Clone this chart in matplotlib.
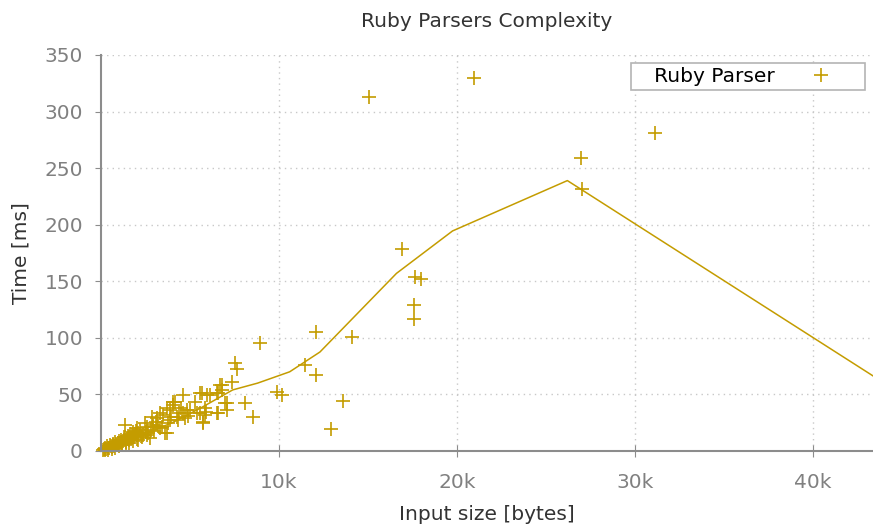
import matplotlib
matplotlib.use('Agg')
import matplotlib.pyplot as plt
from matplotlib.ticker import FuncFormatter

# measured parse times (input bytes, ms)
size_bytes = [100, 150, 200, 250, 300, 350, 400, 450, 500, 550, 600, 650, 700, 750, 800,
              850, 900, 950, 1000, 1050, 1100, 1150, 1200, 1250, 1300, 1350, 1350, 1400,
              1450, 1500, 1550, 1600, 1650, 1700, 1750, 1800, 1850, 1900, 1950, 2000, 2000,
              2050, 2100, 2200, 2250, 2370, 2470, 2500, 2600, 2650, 2750, 2800, 2840, 2900,
              2940, 3000, 3100, 3130, 3200, 3310, 3400, 3500, 3600, 3690, 3690, 3750, 3880,
              3880, 3950, 4060, 4060, 4160, 4250, 4400, 4500, 4620, 4620, 4720, 4850, 5000,
              5280, 5370, 5560, 5560, 5650, 5750, 5750, 5840, 5840, 5900, 5930, 6100, 6500,
              6500, 6600, 6600, 6680, 6780, 6780, 6960, 7060, 7060, 7340, 7530, 7620, 8100,
              8560, 8930, 9870, 10150, 11460, 12080, 12100, 12900, 13600, 14100, 15060,
              16900, 17600, 17600, 17640, 17960, 20950, 26970, 27000, 31100,
              250, 400, 600, 800, 1000, 1200, 1400, 1600, 1800, 2100, 2300, 2600, 3300,
              4300, 4900]
time_ms = [1, 2, 1.5, 3, 2, 4, 3, 2.5, 5, 4, 3.5, 6, 5, 4, 8,
           6, 5, 7, 9, 6, 8, 10, 7, 9, 12, 23, 12.6, 8,
           11, 13, 10, 12, 15, 11, 14, 17, 12, 15, 18, 20, 14,
           11, 16, 19, 13, 14, 24.5, 17, 21, 16, 11.2, 19, 30.4, 23,
           21.5, 18, 26, 28.8, 22, 33.3, 21.5, 31.8, 15.6, 37.8, 15.6, 25, 36.2,
           27.4, 30, 40.7, 43.6, 43.6, 30.4, 34, 38, 49.5, 33.3, 28.8, 36, 36.2,
           43.6, 33.3, 51, 33.3, 51, 24.4, 26, 37.8, 31.8, 34.8, 49.5, 49.5, 33.3,
           51, 51, 33.3, 58.4, 58.4, 54, 42, 42, 36.2, 61.3, 77.5, 72.2, 42,
           29.7, 95.8, 52.4, 49.5, 76, 67.2, 105.5, 19.2, 44.2, 101, 313,
           178.3, 117, 129, 153.6, 152, 329.5, 259.3, 231.4, 281.5,
           0.5, 1, 2, 3, 4, 5, 6, 7, 9, 10, 12, 14, 20,
           27, 31]

# fitted trend
trend_x = [0, 2000, 4000, 5600, 7400, 8800, 10600, 12300, 16600, 19750, 26200, 45000]
trend_y = [0, 12, 25, 38, 54, 60, 70, 87.5, 157, 194.5, 239, 50]

color = '#c49c00'

fig = plt.figure(figsize=(8.73, 5.31), dpi=100)
ax = fig.add_axes([101 / 873, 80 / 531, 772 / 873, 396 / 531])

ax.plot(trend_x, trend_y, color=color, linewidth=1.1)
ax.plot(size_bytes, time_ms, linestyle='none', marker='+', markersize=10,
        markeredgewidth=1.2, color=color, label='   Ruby Parser', clip_on=False)

ax.set_xlim(0, 43370)
ax.set_ylim(0, 350)
ax.set_xticks([10000, 20000, 30000, 40000])
ax.set_yticks(range(0, 351, 50))
ax.xaxis.set_major_formatter(FuncFormatter(lambda v, p: '%dk' % (v / 1000)))

ax.grid(True, color='#c8c8c8', linestyle=(0, (1, 3)), linewidth=1)
ax.set_axisbelow(True)
for s in ['top', 'right']:
    ax.spines[s].set_visible(False)
for s in ['left', 'bottom']:
    ax.spines[s].set_color('#8c8c8c')
    ax.spines[s].set_linewidth(1.5)

ax.tick_params(axis='both', colors='#8c8c8c', labelsize=14.5, labelcolor='#808080')
ax.tick_params(axis='y', direction='out', length=4, pad=9)
ax.tick_params(axis='x', direction='inout', length=8, pad=12)

ax.set_xlabel('Input size [bytes]', fontsize=14.5, color='#333333', labelpad=9)
ax.set_ylabel('Time [ms]', fontsize=14.5, color='#333333', labelpad=10)
ax.set_title('Ruby Parsers Complexity', fontsize=14.5, color='#333333', pad=20)

leg = ax.legend(loc='upper right', bbox_to_anchor=(0.9896, 0.98), markerfirst=False,
                fontsize=14.5, handlelength=4, handletextpad=0.3, borderpad=0.2,
                borderaxespad=0, fancybox=False, framealpha=1, edgecolor='#b4b4b4')
leg.get_frame().set_linewidth(1.2)

fig.savefig('out.png', dpi=100)
